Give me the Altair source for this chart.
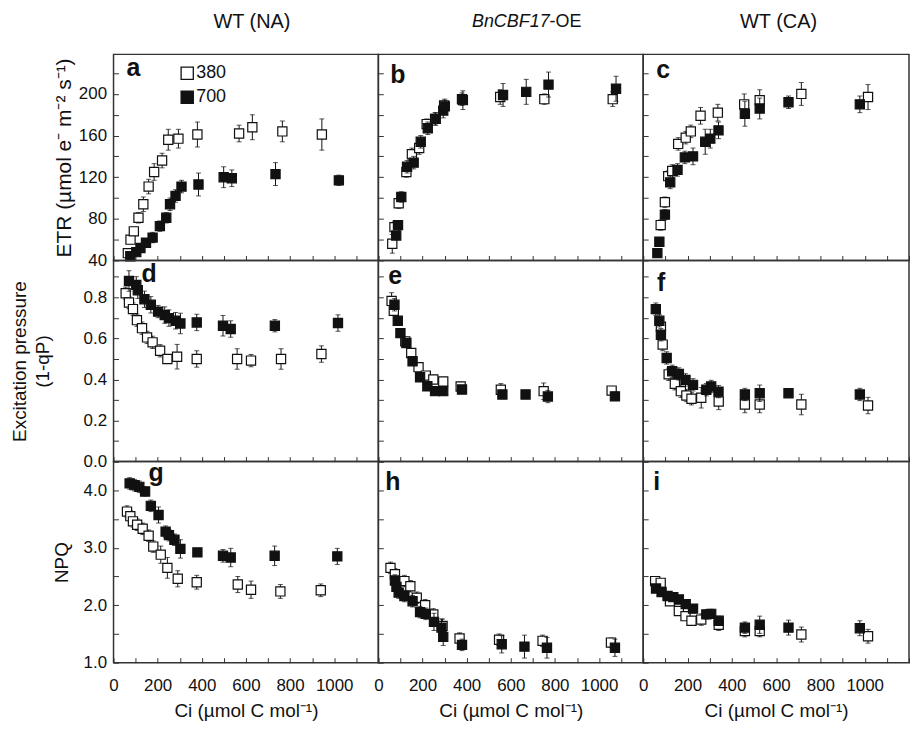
import altair as alt
import pandas as pd

FONT = "Liberation Sans"
INK = "#111111"
EDGE = "#333333"

# ---------------- data ----------------
# Panel a: ETR, WT (NA)
a_o_x = [65, 77, 92, 113, 135, 159, 184, 220, 248, 294, 380, 569, 629, 765, 944]
a_o_y = [47, 60, 68, 81, 94, 111, 125, 136, 156, 157, 161, 162, 168, 164, 161]
a_o_e = [3, 4, 4, 5, 7, 7, 8, 7, 10, 9, 12, 8, 12, 10, 15]
a_f_x = [76, 103, 122, 147, 177, 210, 239, 256, 281, 308, 385, 499, 536, 734, 1021]
a_f_y = [44, 48, 52, 57, 62, 73, 81, 94, 102, 111, 113, 120, 119, 123, 117]
a_f_e = [3, 3, 4, 4, 5, 5, 5, 6, 6, 6, 11, 10, 8, 11, 5]
# Panel b: ETR, BnCBF17-OE
b_o_x = [63, 73, 92, 127, 152, 185, 219, 257, 298, 379, 552, 752, 1062]
b_o_y = [56, 72, 95, 125, 142, 148, 171, 176, 189, 195, 197, 195, 195]
b_o_e = [9, 5, 5, 5, 6, 6, 5, 6, 5, 6, 7, 5, 7]
b_f_x = [81, 89, 104, 130, 160, 192, 224, 260, 294, 301, 383, 565, 670, 771, 1077]
b_f_y = [64, 74, 101, 130, 134, 154, 167, 176, 184, 188, 194, 199, 202, 209, 205]
b_f_e = [4, 4, 5, 6, 6, 6, 6, 6, 7, 7, 9, 11, 12, 12, 12]
# Panel c: ETR, WT (CA)
c_o_x = [79, 98, 113, 131, 158, 192, 215, 259, 337, 456, 526, 714, 1015]
c_o_y = [74, 96, 121, 126, 152, 158, 164, 179, 182, 190, 194, 200, 197]
c_o_e = [5, 5, 5, 6, 6, 6, 6, 8, 8, 10, 10, 11, 12]
c_f_x = [64, 73, 98, 122, 155, 188, 225, 280, 303, 340, 459, 526, 656, 978]
c_f_y = [47, 58, 84, 115, 127, 139, 140, 154, 157, 165, 181, 186, 192, 190]
c_f_e = [4, 4, 5, 6, 6, 6, 8, 12, 9, 8, 12, 10, 6, 8]
# Panel d: excitation pressure, WT (NA)
d_o_x = [55, 70, 88, 106, 129, 152, 177, 211, 244, 288, 377, 560, 623, 759, 942]
d_o_y = [0.82, 0.775, 0.743, 0.689, 0.65, 0.605, 0.581, 0.54, 0.50, 0.511, 0.50, 0.50, 0.492, 0.50, 0.524]
d_o_e = [0.03, 0.03, 0.03, 0.03, 0.03, 0.03, 0.03, 0.03, 0.02, 0.06, 0.04, 0.05, 0.03, 0.05, 0.04]
d_f_x = [70, 103, 110, 140, 169, 202, 232, 251, 281, 303, 377, 496, 531, 731, 1017]
d_f_y = [0.88, 0.861, 0.835, 0.791, 0.764, 0.731, 0.714, 0.699, 0.686, 0.673, 0.678, 0.662, 0.646, 0.662, 0.675]
d_f_e = [0.05, 0.04, 0.04, 0.04, 0.04, 0.03, 0.04, 0.04, 0.04, 0.05, 0.04, 0.05, 0.04, 0.03, 0.04]
# Panel e
e_o_x = [60, 70, 122, 149, 182, 215, 249, 294, 373, 555, 749, 1057]
e_o_y = [0.783, 0.735, 0.586, 0.529, 0.46, 0.419, 0.40, 0.39, 0.366, 0.35, 0.343, 0.346]
e_o_e = [0.04, 0.02, 0.02, 0.02, 0.02, 0.02, 0.02, 0.02, 0.02, 0.03, 0.04, 0.02]
e_f_x = [73, 88, 100, 127, 155, 189, 222, 257, 294, 379, 562, 667, 768, 1072]
e_f_y = [0.764, 0.686, 0.626, 0.578, 0.489, 0.411, 0.367, 0.343, 0.343, 0.351, 0.327, 0.327, 0.317, 0.318]
e_f_e = [0.03, 0.02, 0.02, 0.02, 0.02, 0.02, 0.02, 0.02, 0.02, 0.02, 0.02, 0.02, 0.03, 0.02]
# Panel f
f_o_x = [80, 88, 115, 143, 170, 195, 218, 262, 341, 459, 526, 714, 1015]
f_o_y = [0.657, 0.57, 0.425, 0.379, 0.343, 0.322, 0.306, 0.311, 0.293, 0.278, 0.278, 0.278, 0.273]
f_o_e = [0.04, 0.03, 0.03, 0.03, 0.03, 0.03, 0.03, 0.05, 0.04, 0.04, 0.04, 0.05, 0.04]
f_f_x = [57, 73, 80, 106, 131, 161, 191, 225, 285, 307, 340, 459, 526, 656, 978]
f_f_y = [0.743, 0.686, 0.618, 0.505, 0.44, 0.427, 0.398, 0.374, 0.35, 0.366, 0.341, 0.327, 0.333, 0.333, 0.327]
f_f_e = [0.03, 0.03, 0.03, 0.03, 0.03, 0.03, 0.03, 0.03, 0.03, 0.03, 0.03, 0.03, 0.04, 0.02, 0.03]
# Panel g: NPQ
g_o_x = [61, 76, 88, 107, 132, 159, 180, 214, 244, 291, 377, 563, 623, 756, 939]
g_o_y = [3.63, 3.55, 3.46, 3.40, 3.33, 3.21, 3.02, 2.88, 2.65, 2.46, 2.40, 2.36, 2.27, 2.24, 2.26]
g_o_e = [0.1, 0.1, 0.1, 0.1, 0.1, 0.1, 0.1, 0.15, 0.18, 0.14, 0.12, 0.14, 0.15, 0.12, 0.11]
g_f_x = [73, 95, 117, 143, 169, 204, 236, 251, 276, 303, 380, 496, 531, 730, 1014]
g_f_y = [4.12, 4.09, 4.06, 3.98, 3.73, 3.57, 3.28, 3.22, 3.14, 2.98, 2.92, 2.86, 2.83, 2.86, 2.85]
g_f_e = [0.1, 0.1, 0.1, 0.08, 0.1, 0.14, 0.1, 0.1, 0.1, 0.16, 0.06, 0.11, 0.16, 0.17, 0.14]
# Panel h
h_o_x = [55, 75, 118, 145, 174, 212, 249, 291, 368, 547, 744, 1054]
h_o_y = [2.65, 2.54, 2.42, 2.33, 2.13, 2.0, 1.84, 1.64, 1.42, 1.40, 1.38, 1.35]
h_o_e = [0.1, 0.1, 0.1, 0.1, 0.1, 0.1, 0.1, 0.12, 0.1, 0.1, 0.1, 0.08]
h_f_x = [75, 82, 92, 118, 155, 189, 215, 252, 286, 294, 379, 559, 662, 764, 1072]
h_f_y = [2.43, 2.32, 2.22, 2.16, 2.07, 1.88, 1.85, 1.71, 1.61, 1.45, 1.31, 1.32, 1.28, 1.26, 1.26]
h_f_e = [0.1, 0.1, 0.1, 0.1, 0.1, 0.1, 0.1, 0.15, 0.15, 0.15, 0.1, 0.15, 0.2, 0.18, 0.15]
# Panel i
i_o_x = [54, 79, 121, 161, 191, 218, 262, 341, 459, 526, 714, 1015]
i_o_y = [2.42, 2.39, 2.07, 1.90, 1.81, 1.73, 1.75, 1.66, 1.55, 1.55, 1.49, 1.46]
i_o_e = [0.05, 0.05, 0.06, 0.06, 0.06, 0.07, 0.1, 0.1, 0.1, 0.1, 0.13, 0.12]
i_f_x = [58, 83, 110, 136, 161, 192, 225, 285, 307, 341, 459, 526, 656, 978]
i_f_y = [2.29, 2.23, 2.16, 2.14, 2.10, 2.02, 1.94, 1.84, 1.85, 1.73, 1.61, 1.66, 1.61, 1.60]
i_f_e = [0.05, 0.05, 0.05, 0.05, 0.06, 0.06, 0.07, 0.08, 0.08, 0.08, 0.1, 0.15, 0.13, 0.13]

PANELS = [
    [("a", a_o_x, a_o_y, a_o_e, a_f_x, a_f_y, a_f_e),
     ("b", b_o_x, b_o_y, b_o_e, b_f_x, b_f_y, b_f_e),
     ("c", c_o_x, c_o_y, c_o_e, c_f_x, c_f_y, c_f_e)],
    [("d", d_o_x, d_o_y, d_o_e, d_f_x, d_f_y, d_f_e),
     ("e", e_o_x, e_o_y, e_o_e, e_f_x, e_f_y, e_f_e),
     ("f", f_o_x, f_o_y, f_o_e, f_f_x, f_f_y, f_f_e)],
    [("g", g_o_x, g_o_y, g_o_e, g_f_x, g_f_y, g_f_e),
     ("h", h_o_x, h_o_y, h_o_e, h_f_x, h_f_y, h_f_e),
     ("i", i_o_x, i_o_y, i_o_e, i_f_x, i_f_y, i_f_e)],
]

col_titles = ["WT (NA)", "BnCBF17", "WT (CA)"]
col_title_suffix = "-OE"
legend_labels = ["380", "700"]
x_ticks = list(range(0, 1201, 100))
etr_ticks = list(range(40, 221, 20))
ep_ticks = [round(i * 0.1, 1) for i in range(10)]
npq_ticks = [1.0, 1.5, 2.0, 2.5, 3.0, 3.5, 4.0, 4.5]
x_title = "Ci (µmol C mol⁻¹)"

ROWS = [
    dict(domain=[40, 238], ticks=etr_ticks, fmt="d",
         expr="datum.value % 40 == 0 && datum.value <= 200 ? datum.label : ''",
         title="ETR (µmol e⁻ m⁻² s⁻¹)", h=207, tfs=21, tx=-54),
    dict(domain=[0, 0.98], ticks=ep_ticks, fmt=".1f",
         expr="round(datum.value * 10) % 2 == 0 ? datum.label : ''",
         title=["Excitation pressure", "(1-qP)"], h=202, tfs=19, tx=-99),
    dict(domain=[1.0, 4.5], ticks=npq_ticks, fmt=".1f",
         expr="datum.value % 1 == 0 && datum.value < 4.5 ? datum.label : ''",
         title="NPQ", h=202, tfs=19, tx=-57),
]
WIDTHS = [266, 266, 267]
COL_CENTER = [139, 149, 136]   # title centre, relative to each panel's left edge

LETTER_POS = {"a": (13, 22), "b": (12, 29), "c": (13, 24),
              "d": (28, 22), "e": (10, 24), "f": (14, 31),
              "g": (35, 20), "h": (7, 29), "i": (10, 29)}

TICK = 5


def frame(x, y, e):
    return pd.DataFrame({"ci": x, "v": y,
                         "lo": [a - b for a, b in zip(y, e)],
                         "hi": [a + b for a, b in zip(y, e)]})


def text_layer(t, x, y, size, align="center", style="normal", weight="normal",
               baseline="middle"):
    return alt.Chart(pd.DataFrame({"t": [t]})).mark_text(
        font=FONT, fontSize=size, fontStyle=style, fontWeight=weight,
        align=align, baseline=baseline, color=INK).encode(
        x=alt.value(x), y=alt.value(y), text="t:N")


def panel(r, c):
    letter, ox, oy, oe, fx, fy, fe = PANELS[r][c]
    row = ROWS[r]
    w, h = WIDTHS[c], row["h"]
    bottom = r == 2
    left = c == 0

    xa = dict(values=x_ticks, offset=-TICK, tickSize=TICK, domain=False,
              labels=bottom, labelFlush=False, labelOverlap=False,
              labelExpr="datum.value % 200 == 0 && datum.value <= 1000 ? datum.label : ''",
              labelPadding=15, format="d", grid=False)
    if bottom:
        xa.update(title=x_title, titleX=w / 2, titleY=53, titleBaseline="middle")
    else:
        xa.update(title=None)
    ya = dict(values=row["ticks"], offset=-TICK, tickSize=TICK, domain=False,
              labels=left, labelOverlap=False, labelExpr=row["expr"],
              format=row["fmt"], labelPadding=7, grid=False)
    if left:
        ya.update(title=row["title"], titleX=row["tx"], titleY=h / 2,
                  titleAngle=270, titleAlign="center", titleBaseline="middle",
                  titleFontSize=row["tfs"])
    else:
        ya.update(title=None)

    xs = alt.Scale(domain=[0, 1200], nice=False, zero=False)
    ys = alt.Scale(domain=row["domain"], nice=False, zero=False)

    def X():
        return alt.X("ci:Q", scale=xs, axis=alt.Axis(**xa))

    def Y(field):
        return alt.Y(f"{field}:Q", scale=ys, axis=alt.Axis(**ya))

    layers = []
    for (x, y, e, fill) in [(ox, oy, oe, "white"), (fx, fy, fe, INK)]:
        df = frame(x, y, e)
        base = alt.Chart(df)
        layers.append(base.mark_rule(color=INK, strokeWidth=1).encode(
            x=X(), y=Y("lo"), y2="hi:Q"))
        layers.append(base.mark_tick(orient="horizontal", size=5, thickness=1,
                                     color=INK).encode(x=X(), y=Y("lo")))
        layers.append(base.mark_tick(orient="horizontal", size=5, thickness=1,
                                     color=INK).encode(x=X(), y=Y("hi")))
        layers.append(base.mark_point(shape="square", filled=True, size=85,
                                      strokeWidth=1.2, opacity=1).encode(
            x=X(), y=Y("v"), fill=alt.value(fill), stroke=alt.value(INK)))

    lx, ly = LETTER_POS[letter]
    layers.append(text_layer(letter, lx, ly, 25, align="left", weight="bold",
                             baseline="alphabetic"))

    if r == 0 and c == 0:
        for i, (lab, fill) in enumerate(zip(legend_labels, ["white", INK])):
            d1 = pd.DataFrame({"t": [lab]})
            layers.append(alt.Chart(d1).mark_point(
                shape="square", filled=True, size=150, strokeWidth=1.3,
                opacity=1).encode(x=alt.value(74), y=alt.value(19 + 24 * i),
                                  fill=alt.value(fill), stroke=alt.value(INK)))
            layers.append(text_layer(lab, 83, 19 + 24 * i, 18, align="left"))

    if r == 0:
        cx = COL_CENTER[c]
        if c == 1:
            split = cx + 23
            layers.append(text_layer(col_titles[c], split, -32, 18,
                                     align="right", style="italic"))
            layers.append(text_layer(col_title_suffix, split, -32, 18,
                                     align="left"))
        else:
            layers.append(text_layer(col_titles[c], cx, -32, 20))

    return alt.layer(*layers).properties(width=w, height=h)


panels = [panel(r, c) for r in range(3) for c in range(3)]
chart = alt.concat(*panels, columns=3, spacing=0, bounds="flush").properties(
    padding={"left": 2, "top": 2, "right": 0, "bottom": 0},
    background="white",
).configure_view(stroke=EDGE, strokeWidth=1.5).configure_axis(
    labelFont=FONT, labelFontSize=17, labelColor=INK,
    titleFont=FONT, titleFontSize=19, titleFontWeight="normal", titleColor=INK,
    tickColor=EDGE, tickWidth=1, titleLineHeight=23,
)

chart.save("out.html", embed_options={"renderer": "svg", "actions": False})
